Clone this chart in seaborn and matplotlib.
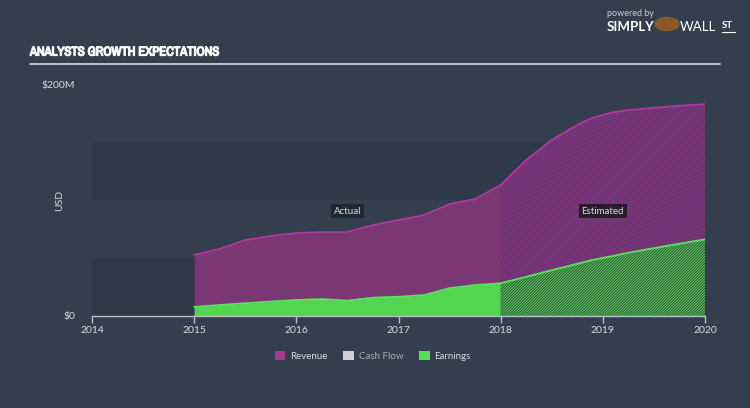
import matplotlib
matplotlib.use("Agg")
import matplotlib.pyplot as plt
import matplotlib.patheffects as pe
import seaborn as sns
from matplotlib.patches import Patch
from matplotlib.lines import Line2D
from matplotlib import font_manager

# ---- data (USD millions) ----
actual_years = [2015.0, 2015.25, 2015.5, 2015.75, 2016.0, 2016.25, 2016.5, 2016.75,
                2017.0, 2017.25, 2017.5, 2017.75, 2018.0]
revenue_actual = [52.6, 57.8, 65.5, 69.0, 71.5, 72.4, 72.4, 78.4, 82.8, 87.0, 96.5, 100.8, 113.0]
earnings_actual = [7.8, 9.5, 11.0, 12.5, 13.8, 14.6, 13.2, 15.8, 16.6, 18.0, 24.0, 26.7, 28.2]

est_years = [2018.0, 2018.25, 2018.5, 2018.75, 2018.9, 2019.1, 2019.25, 2019.5, 2019.75, 2020.0]
revenue_est = [113.0, 134.5, 151.7, 164.7, 171.0, 175.6, 177.5, 179.5, 181.3, 182.5]
earnings_est = [28.2, 33.8, 39.5, 45.0, 48.3, 51.8, 54.5, 58.5, 62.3, 66.0]

x_ticks = [2014, 2015, 2016, 2017, 2018, 2019, 2020]
y_ticks = [0, 200]
y_tick_labels = ["$0", "$200M"]
legend_labels = ["Revenue", "Cash Flow", "Earnings"]

BG = "#333f4f"
BAND = "#2e3a49"
REV_LINE = "#b0389f"
REV_FILL = "#7a3774"
REV_HATCH_BG = "#443452"
REV_HATCH = "#a3369a"
EARN_LINE = "#5ce35c"
EARN_FILL = "#52d652"
EARN_HATCH_BG = "#2f4a3c"
EARN_HATCH = "#56d456"
TXT = "#d6dbe0"

sns.set_theme(style="dark")
plt.rcParams["font.family"] = ["Lato", "DejaVu Sans"]
plt.rcParams["hatch.linewidth"] = 0.7

# pick a condensed font for the title if one is installed
names = sorted({f.name for f in font_manager.fontManager.ttflist})
cond = [n for n in names if "Condensed" in n or "Narrow" in n]
cond_stretch = [f.name for f in font_manager.fontManager.ttflist
                if str(f.stretch) in ("condensed", "semi-condensed", "extra-condensed")]
title_family = (cond + cond_stretch + ["DejaVu Sans"])[:1] + ["DejaVu Sans"]

fig = plt.figure(figsize=(7.5, 4.08), dpi=100)
fig.patch.set_facecolor(BG)
ax = fig.add_axes([92 / 750, 1 - 316 / 408, (705 - 92) / 750, (316 - 84) / 408])
ax.set_facecolor(BG)
ax.set_xlim(2014, 2020)
ax.set_ylim(0, 200)

# background bands
ax.axhspan(0, 50, color=BAND, zorder=0, lw=0)
ax.axhspan(100, 150, color=BAND, zorder=0, lw=0)

# actual areas
ax.fill_between(actual_years, 0, revenue_actual, color=REV_FILL, lw=0, zorder=1)
ax.fill_between(actual_years, 0, earnings_actual, color=EARN_FILL, lw=0, zorder=2)
# estimated areas (hatched)
ax.fill_between(est_years, 0, revenue_est, facecolor=REV_HATCH_BG, edgecolor=REV_HATCH,
                hatch="////////////", lw=0, zorder=1)
ax.fill_between(est_years, 0, earnings_est, facecolor=EARN_HATCH_BG, edgecolor=EARN_HATCH,
                hatch="////////////", lw=0, zorder=2)

# lines
sns.lineplot(x=actual_years + est_years[1:], y=revenue_actual + revenue_est[1:], ax=ax,
             color=REV_LINE, linewidth=1.3, zorder=3)
sns.lineplot(x=actual_years + est_years[1:], y=earnings_actual + earnings_est[1:], ax=ax,
             color=EARN_LINE, linewidth=1.3, zorder=3)

# axes styling
for s in ["top", "right", "left"]:
    ax.spines[s].set_visible(False)
ax.spines["bottom"].set_color("#b8c0c8")
ax.spines["bottom"].set_linewidth(1.0)
ax.set_xticks(x_ticks)
ax.set_xticklabels([str(t) for t in x_ticks])
ax.set_yticks(y_ticks)
ax.set_yticklabels(y_tick_labels)
ax.tick_params(axis="x", colors="#b8c0c8", labelcolor=TXT, labelsize=7.5, length=5,
               width=1, direction="out", pad=2, bottom=True)
ax.tick_params(axis="y", labelcolor=TXT, labelsize=7.5, length=0, pad=12)
ax.grid(False)
ax.set_xlabel("")
ax.set_ylabel("USD", color=TXT, fontsize=7.5, labelpad=14)
ax.yaxis.set_label_coords(-0.045, 0.5)

# Actual / Estimated labels
box = dict(boxstyle="square,pad=0.3", fc="#1f2731", ec="none")
ax.text(2016.5, 90.5, "Actual", color=TXT, fontsize=7, ha="center", va="center", bbox=box, zorder=5)
box2 = dict(boxstyle="square,pad=0.3", fc="#2a1c2c", ec="none")
ax.text(2019.0, 90.5, "Estimated", color=TXT, fontsize=7, ha="center", va="center", bbox=box2, zorder=5)

# title + rule
fig.text(30 / 750, 1 - 52 / 408, "ANALYSTS GROWTH EXPECTATIONS", color="white", fontsize=9.2,
         fontweight="bold", family=title_family, fontstretch="condensed",
         ha="left", va="center",
         path_effects=[pe.withStroke(linewidth=0.9, foreground="white")])
fig.add_artist(Line2D([30 / 750, 720 / 750], [1 - 64 / 408, 1 - 64 / 408], color="#c8d0d8",
                      lw=1.3, transform=fig.transFigure))

# logo text
fig.text(607 / 750, 1 - 14 / 408, "powered by", color="#c8ccd0", fontsize=6.5, ha="left", va="center")
fig.text(607 / 750, 1 - 27 / 408, "SIMPLY", color="white", fontsize=9.5, fontweight="bold",
         ha="left", va="center")
fig.text(680 / 750, 1 - 27 / 408, "WALL", color="white", fontsize=9.5, ha="left", va="center")
fig.text(722 / 750, 1 - 26 / 408, "ST", color="white", fontsize=7, fontweight="bold", ha="left",
         va="center")
fig.add_artist(Line2D([722 / 750, 735 / 750], [1 - 32 / 408, 1 - 32 / 408], color="white", lw=0.8,
                      transform=fig.transFigure))
fig.add_artist(plt.Circle((667 / 750, 1 - 24 / 408), 0.016, color="#8a5a2a", transform=fig.transFigure))

# legend
handles = [Patch(facecolor="#a93595", edgecolor="none"),
           Patch(facecolor="#d0d0d0", edgecolor="none"),
           Patch(facecolor="#52e052", edgecolor="none")]
leg = fig.legend(handles, legend_labels, loc="center", bbox_to_anchor=(0.497, 1 - 356 / 408), ncol=3,
                 frameon=False, fontsize=7, handlelength=1.1, handleheight=1.1, columnspacing=1.6,
                 handletextpad=0.5)
for t, c in zip(leg.get_texts(), [TXT, "#a8b0b8", TXT]):
    t.set_color(c)

fig.savefig("out.png", dpi=100, facecolor=BG)
